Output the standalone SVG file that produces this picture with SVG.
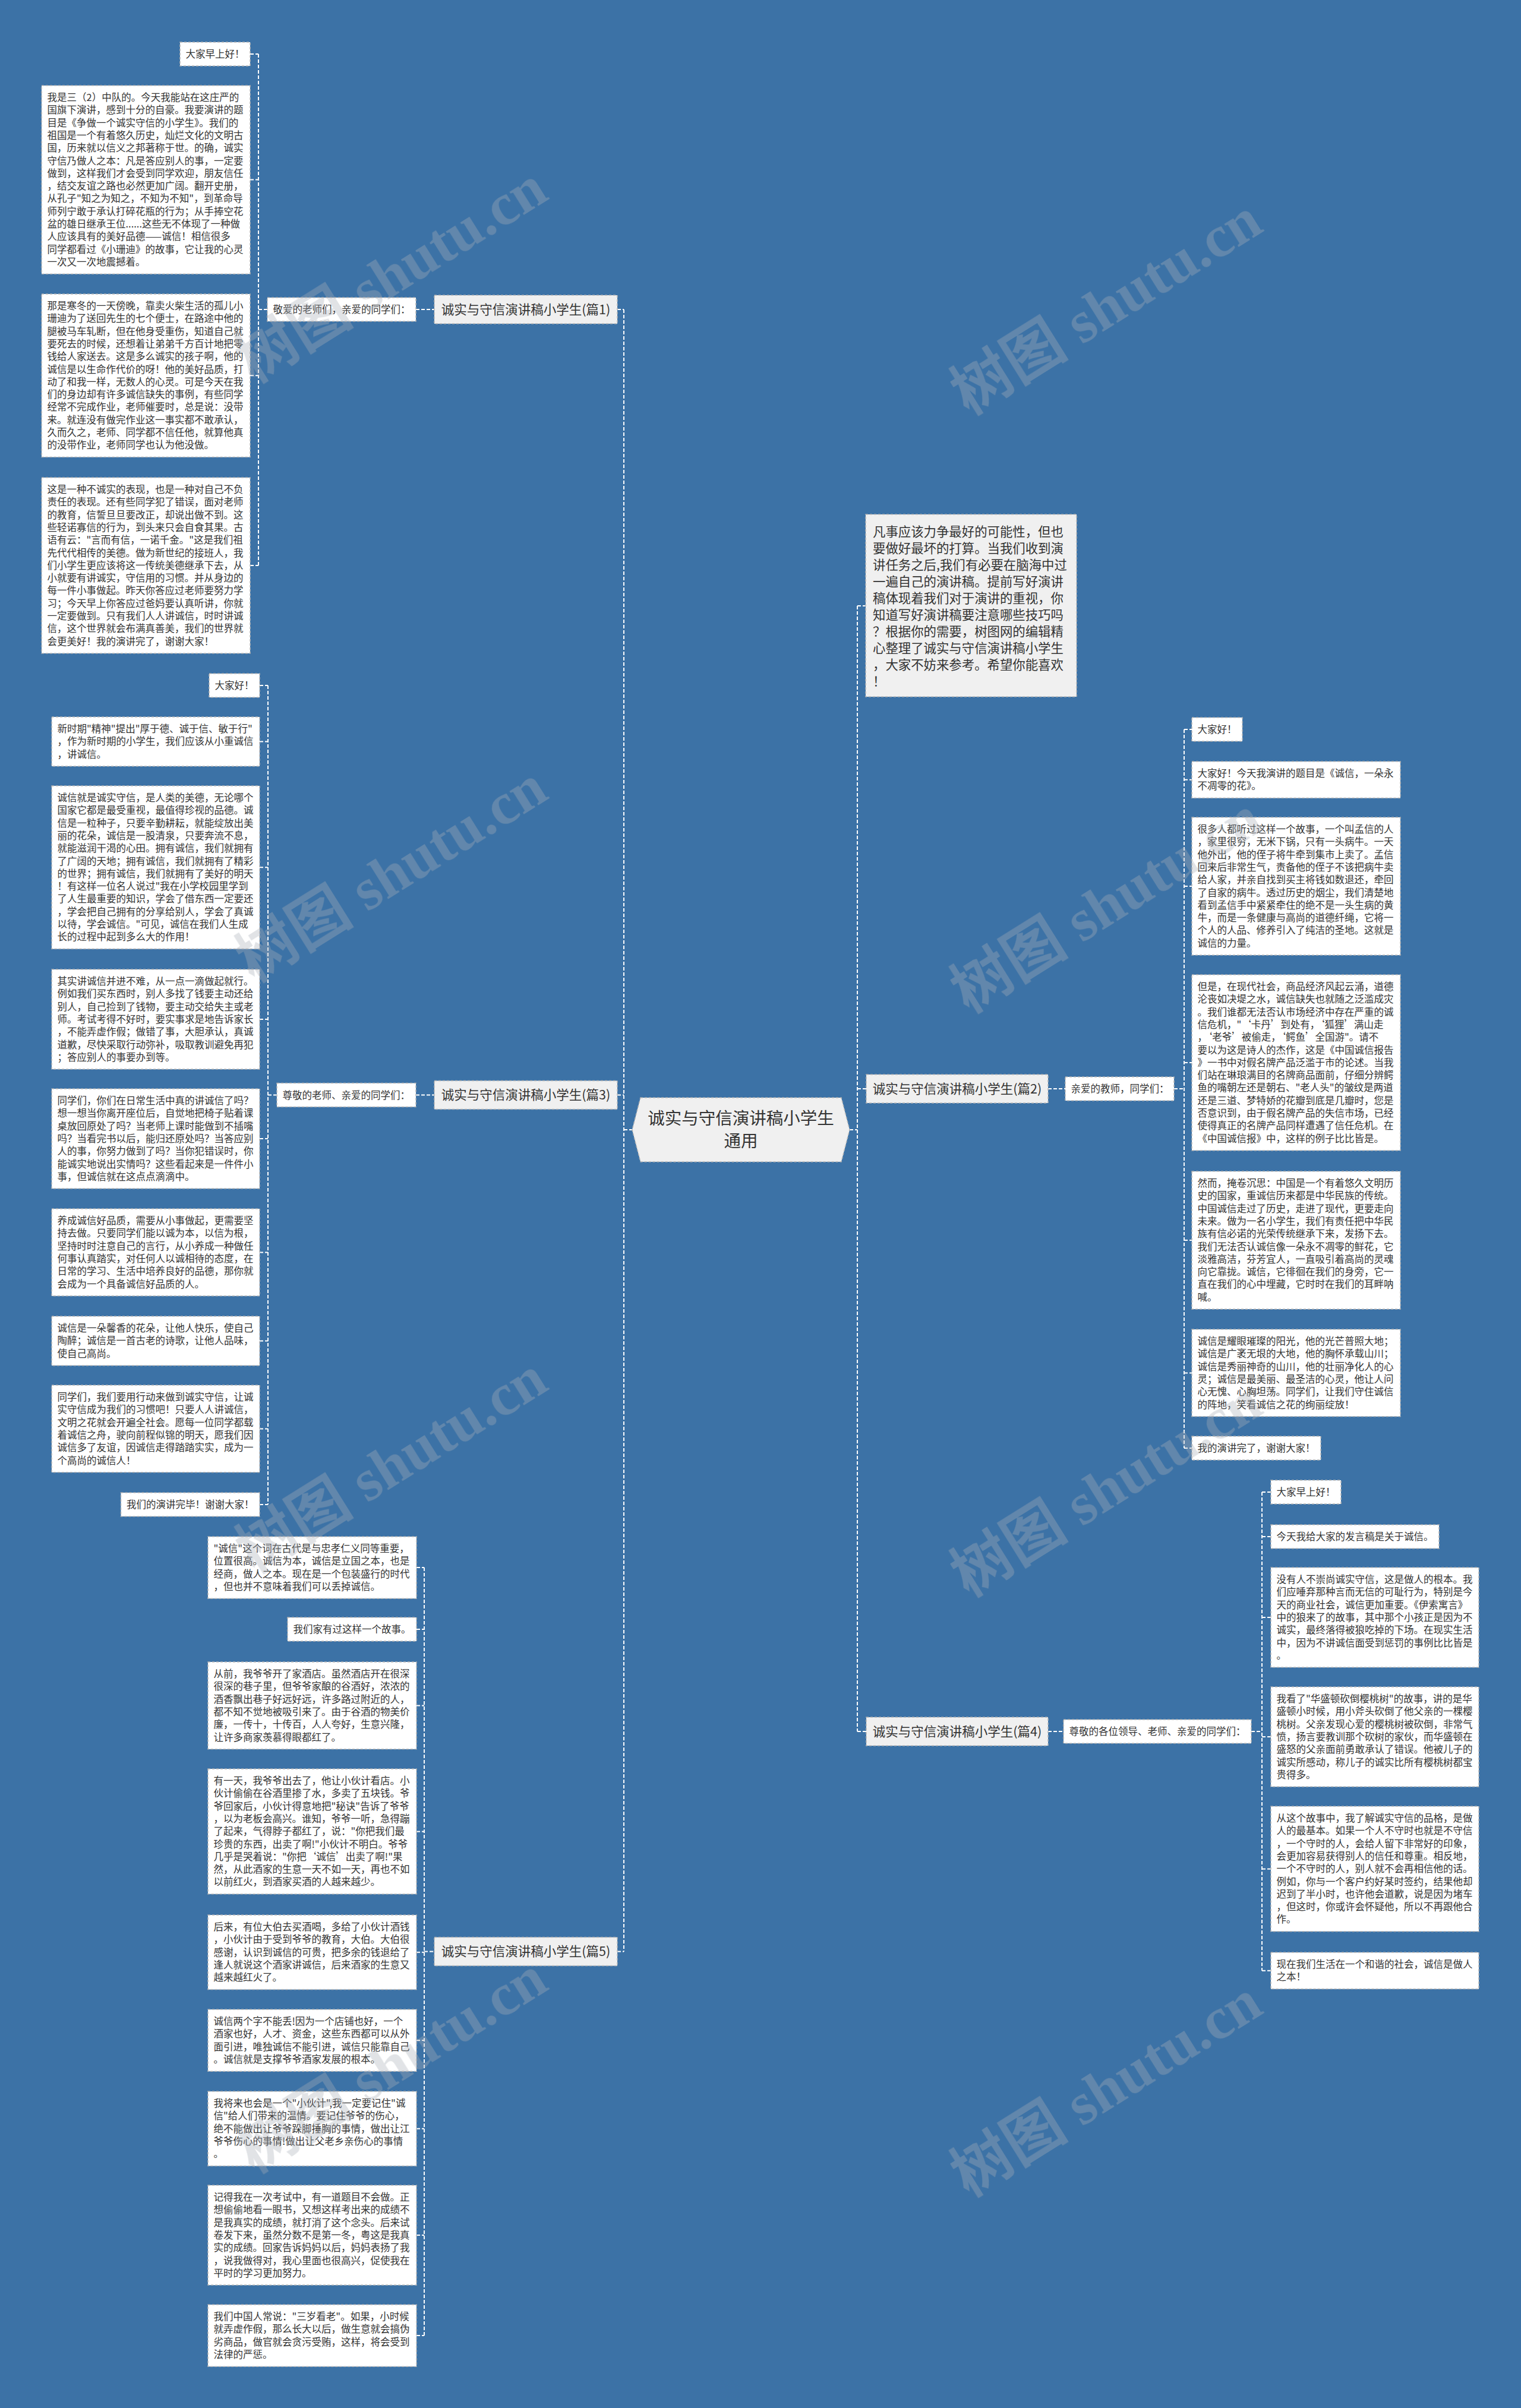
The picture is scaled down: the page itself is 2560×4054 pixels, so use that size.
<svg xmlns="http://www.w3.org/2000/svg" width="2560" height="4054" viewBox="0 0 2560 4054">
<style>
.t{font-family:"Noto Sans CJK SC","Noto Sans",sans-serif;font-size:16.5px;fill:#333}
.bt{font-family:"Noto Sans CJK SC","Noto Sans",sans-serif;font-size:21.5px;fill:#333}
.it{font-family:"Noto Sans CJK SC","Noto Sans",sans-serif;font-size:21.4px;fill:#333}
.ct{font-family:"Noto Sans CJK SC","Noto Sans",sans-serif;font-size:28.5px;fill:#333}
.lf{fill:#fff;stroke:#b4b4b4;stroke-width:1.5;stroke-dasharray:4 3}
.br{fill:#f0f0f0;stroke:#b4b4b4;stroke-width:1.5;stroke-dasharray:4 3}
.cn{fill:none;stroke:#fff;stroke-width:2;stroke-dasharray:6 3}
.wm{font-family:"Liberation Serif","Noto Sans CJK SC",serif;font-size:100px;font-weight:bold;fill:#aab0b8;opacity:0.35}
</style>
<rect width="2560" height="4054" fill="#3c72a6"/>

<g id="connectors" class="cn">
<!-- section 1 -->
<path d="M435 91V952M421 91H435M421 302.6H435M421 632.3H435M421 952H435M435 521H450M700 521H731M1039 521H1050"/>
<!-- section 3 -->
<path d="M451 1154V2533M437 1154H451M437 1248.5H451M437 1460.3H451M437 1716H451M437 1917H451M437 2108.4H451M437 2257.5H451M437 2405.4H451M437 2533H451M451 1843.5H466M700 1843.5H731M1039 1843.5H1050"/>
<!-- section 5 -->
<path d="M714 2639V3932M701 2639H714M701 2743H714M701 2871.4H714M701 3083.4H714M701 3286.8H714M701 3435.1H714M701 3583.8H714M701 3763H714M701 3932.1H714M714 3285.5H731M1039 3285.5H1050"/>
<!-- left main -->
<path d="M1050 521V3285.5M1050 1902H1064"/>
<!-- right main -->
<path d="M1443 1020V2915M1430 1902H1443M1443 1020H1457M1443 1833H1458M1443 2915H1458"/>
<!-- section 2 -->
<path d="M1764 1833H1793M1976 1833H1993M1993 1228V2438M1993 1228H2006M1993 1312.8H2006M1993 1492H2006M1993 1789H2006M1993 2088H2006M1993 2311.4H2006M1993 2438H2006"/>
<!-- section 4 -->
<path d="M1764 2915H1790M2106 2915H2124M2124 2512V3317.8M2124 2512H2139M2124 2587H2139M2124 2723H2139M2124 2924H2139M2124 3146.4H2139M2124 3317.8H2139"/>
</g>

<g id="center">
<polygon points="1078,1848 1416,1848 1430,1902 1416,1956 1078,1956 1064,1902" fill="#f0f0f0" stroke="#b4b4b4" stroke-width="1.5" stroke-dasharray="4 3"/>
<text class="ct" text-anchor="middle"><tspan x="1247" y="1893">诚实与守信演讲稿小学生</tspan><tspan x="1247" y="1931">通用</tspan></text>
</g>

<g id="intro" transform="translate(1457,866)"><rect class="br" width="355" height="307"/>
<text class="it" y="36.7"><tspan x="12">凡事应该力争最好的可能性，但也</tspan><tspan x="12" dy="28">要做好最坏的打算。当我们收到演</tspan><tspan x="12" dy="28">讲任务之后,我们有必要在脑海中过</tspan><tspan x="12" dy="28">一遍自己的演讲稿。提前写好演讲</tspan><tspan x="12" dy="28">稿体现着我们对于演讲的重视，你</tspan><tspan x="12" dy="28">知道写好演讲稿要注意哪些技巧吗</tspan><tspan x="12" dy="28">？根据你的需要，树图网的编辑精</tspan><tspan x="12" dy="28">心整理了诚实与守信演讲稿小学生</tspan><tspan x="12" dy="28">，大家不妨来参考。希望你能喜欢</tspan><tspan x="12" dy="28">！</tspan></text></g>

<!-- ===== Section 1 ===== -->
<g id="b1" transform="translate(731,497)"><rect class="br" width="308" height="48"/><text class="bt" x="154" y="31.7" text-anchor="middle">诚实与守信演讲稿小学生(篇1)</text></g>
<g id="l1" transform="translate(450,501)"><rect class="lf" width="250" height="40"/><text class="t" x="9.5" y="26">敬爱的老师们，亲爱的同学们：</text></g>
<g id="s1a" transform="translate(303,71)"><rect class="lf" width="118" height="40"/><text class="t" x="9.5" y="26">大家早上好！</text></g>
<g id="s1b" transform="translate(70,144)"><rect class="lf" width="351" height="317.2"/>
<text class="t" y="26"><tspan x="9.5">我是三（2）中队的。今天我能站在这庄严的</tspan><tspan x="9.5" dy="21.3">国旗下演讲，感到十分的自豪。我要演讲的题</tspan><tspan x="9.5" dy="21.3">目是《争做一个诚实守信的小学生》。我们的</tspan><tspan x="9.5" dy="21.3">祖国是一个有着悠久历史，灿烂文化的文明古</tspan><tspan x="9.5" dy="21.3">国，历来就以信义之邦著称于世。的确，诚实</tspan><tspan x="9.5" dy="21.3">守信乃做人之本：凡是答应别人的事，一定要</tspan><tspan x="9.5" dy="21.3">做到，这样我们才会受到同学欢迎，朋友信任</tspan><tspan x="9.5" dy="21.3">，结交友谊之路也必然更加广阔。翻开史册，</tspan><tspan x="9.5" dy="21.3">从孔子"知之为知之，不知为不知"，到革命导</tspan><tspan x="9.5" dy="21.3">师列宁敢于承认打碎花瓶的行为；从手捧空花</tspan><tspan x="9.5" dy="21.3">盆的雄日继承王位......这些无不体现了一种做</tspan><tspan x="9.5" dy="21.3">人应该具有的美好品德——诚信！相信很多</tspan><tspan x="9.5" dy="21.3">同学都看过《小珊迪》的故事，它让我的心灵</tspan><tspan x="9.5" dy="21.3">一次又一次地震撼着。</tspan></text></g>
<g id="s1c" transform="translate(70,495)"><rect class="lf" width="351" height="274.6"/>
<text class="t" y="26"><tspan x="9.5">那是寒冬的一天傍晚，靠卖火柴生活的孤儿小</tspan><tspan x="9.5" dy="21.3">珊迪为了送回先生的七个便士，在路途中他的</tspan><tspan x="9.5" dy="21.3">腿被马车轧断，但在他身受重伤，知道自己就</tspan><tspan x="9.5" dy="21.3">要死去的时候，还想着让弟弟千方百计地把零</tspan><tspan x="9.5" dy="21.3">钱给人家送去。这是多么诚实的孩子啊，他的</tspan><tspan x="9.5" dy="21.3">诚信是以生命作代价的呀！他的美好品质，打</tspan><tspan x="9.5" dy="21.3">动了和我一样，无数人的心灵。可是今天在我</tspan><tspan x="9.5" dy="21.3">们的身边却有许多诚信缺失的事例，有些同学</tspan><tspan x="9.5" dy="21.3">经常不完成作业，老师催要时，总是说：没带</tspan><tspan x="9.5" dy="21.3">来。就连没有做完作业这一事实都不敢承认，</tspan><tspan x="9.5" dy="21.3">久而久之，老师、同学都不信任他，就算他真</tspan><tspan x="9.5" dy="21.3">的没带作业，老师同学也认为他没做。</tspan></text></g>
<g id="s1d" transform="translate(70,804)"><rect class="lf" width="351" height="295.9"/>
<text class="t" y="26"><tspan x="9.5">这是一种不诚实的表现，也是一种对自己不负</tspan><tspan x="9.5" dy="21.3">责任的表现。还有些同学犯了错误，面对老师</tspan><tspan x="9.5" dy="21.3">的教育，信誓旦旦要改正，却说出做不到。这</tspan><tspan x="9.5" dy="21.3">些轻诺寡信的行为，到头来只会自食其果。古</tspan><tspan x="9.5" dy="21.3">语有云："言而有信，一诺千金。"这是我们祖</tspan><tspan x="9.5" dy="21.3">先代代相传的美德。做为新世纪的接班人，我</tspan><tspan x="9.5" dy="21.3">们小学生更应该将这一传统美德继承下去，从</tspan><tspan x="9.5" dy="21.3">小就要有讲诚实，守信用的习惯。并从身边的</tspan><tspan x="9.5" dy="21.3">每一件小事做起。昨天你答应过老师要努力学</tspan><tspan x="9.5" dy="21.3">习；今天早上你答应过爸妈要认真听讲，你就</tspan><tspan x="9.5" dy="21.3">一定要做到。只有我们人人讲诚信，时时讲诚</tspan><tspan x="9.5" dy="21.3">信，这个世界就会布满真善美，我们的世界就</tspan><tspan x="9.5" dy="21.3">会更美好！我的演讲完了，谢谢大家！</tspan></text></g>

<!-- ===== Section 3 ===== -->
<g id="b3" transform="translate(731,1819.5)"><rect class="br" width="308" height="48"/><text class="bt" x="154" y="31.7" text-anchor="middle">诚实与守信演讲稿小学生(篇3)</text></g>
<g id="l3" transform="translate(466,1823.5)"><rect class="lf" width="234" height="40"/><text class="t" x="9.5" y="26">尊敬的老师、亲爱的同学们：</text></g>
<g id="s3a" transform="translate(352,1134)"><rect class="lf" width="85" height="40"/><text class="t" x="9.5" y="26">大家好！</text></g>
<g id="s3b" transform="translate(87,1207)"><rect class="lf" width="350" height="82.9"/>
<text class="t" y="26"><tspan x="9.5">新时期"精神"提出"厚于德、诚于信、敏于行"</tspan><tspan x="9.5" dy="21.3">，作为新时期的小学生，我们应该从小重诚信</tspan><tspan x="9.5" dy="21.3">，讲诚信。</tspan></text></g>
<g id="s3c" transform="translate(87,1323)"><rect class="lf" width="350" height="274.6"/>
<text class="t" y="26"><tspan x="9.5">诚信就是诚实守信，是人类的美德，无论哪个</tspan><tspan x="9.5" dy="21.3">国家它都是最受重视，最值得珍视的品德。诚</tspan><tspan x="9.5" dy="21.3">信是一粒种子，只要辛勤耕耘，就能绽放出美</tspan><tspan x="9.5" dy="21.3">丽的花朵，诚信是一股清泉，只要奔流不息，</tspan><tspan x="9.5" dy="21.3">就能滋润干渴的心田。拥有诚信，我们就拥有</tspan><tspan x="9.5" dy="21.3">了广阔的天地；拥有诚信，我们就拥有了精彩</tspan><tspan x="9.5" dy="21.3">的世界；拥有诚信，我们就拥有了美好的明天</tspan><tspan x="9.5" dy="21.3">！有这样一位名人说过"我在小学校园里学到</tspan><tspan x="9.5" dy="21.3">了人生最重要的知识，学会了借东西一定要还</tspan><tspan x="9.5" dy="21.3">，学会把自己拥有的分享给别人，学会了真诚</tspan><tspan x="9.5" dy="21.3">以待，学会诚信。"可见，诚信在我们人生成</tspan><tspan x="9.5" dy="21.3">长的过程中起到多么大的作用！</tspan></text></g>
<g id="s3d" transform="translate(87,1632)"><rect class="lf" width="350" height="168.1"/>
<text class="t" y="26"><tspan x="9.5">其实讲诚信并进不难，从一点一滴做起就行。</tspan><tspan x="9.5" dy="21.3">例如我们买东西时，别人多找了钱要主动还给</tspan><tspan x="9.5" dy="21.3">别人，自己捡到了钱物，要主动交给失主或老</tspan><tspan x="9.5" dy="21.3">师。考试考得不好时，要实事求是地告诉家长</tspan><tspan x="9.5" dy="21.3">，不能弄虚作假；做错了事，大胆承认，真诚</tspan><tspan x="9.5" dy="21.3">道歉，尽快采取行动弥补，吸取教训避免再犯</tspan><tspan x="9.5" dy="21.3">；答应别人的事要办到等。</tspan></text></g>
<g id="s3e" transform="translate(87,1833)"><rect class="lf" width="350" height="168.1"/>
<text class="t" y="26"><tspan x="9.5">同学们，你们在日常生活中真的讲诚信了吗？</tspan><tspan x="9.5" dy="21.3">想一想当你离开座位后，自觉地把椅子贴着课</tspan><tspan x="9.5" dy="21.3">桌放回原处了吗？当老师上课时能做到不插嘴</tspan><tspan x="9.5" dy="21.3">吗？当看完书以后，能归还原处吗？当答应别</tspan><tspan x="9.5" dy="21.3">人的事，你努力做到了吗？当你犯错误时，你</tspan><tspan x="9.5" dy="21.3">能诚实地说出实情吗？这些看起来是一件件小</tspan><tspan x="9.5" dy="21.3">事，但诚信就在这点点滴滴中。</tspan></text></g>
<g id="s3f" transform="translate(87,2035)"><rect class="lf" width="350" height="146.8"/>
<text class="t" y="26"><tspan x="9.5">养成诚信好品质，需要从小事做起，更需要坚</tspan><tspan x="9.5" dy="21.3">持去做。只要同学们能以诚为本，以信为根，</tspan><tspan x="9.5" dy="21.3">坚持时时注意自己的言行，从小养成一种做任</tspan><tspan x="9.5" dy="21.3">何事认真踏实，对任何人以诚相待的态度，在</tspan><tspan x="9.5" dy="21.3">日常的学习、生活中培养良好的品德，那你就</tspan><tspan x="9.5" dy="21.3">会成为一个具备诚信好品质的人。</tspan></text></g>
<g id="s3g" transform="translate(87,2216)"><rect class="lf" width="350" height="82.9"/>
<text class="t" y="26"><tspan x="9.5">诚信是一朵馨香的花朵，让他人快乐，使自己</tspan><tspan x="9.5" dy="21.3">陶醉；诚信是一首古老的诗歌，让他人品味，</tspan><tspan x="9.5" dy="21.3">使自己高尚。</tspan></text></g>
<g id="s3h" transform="translate(87,2332)"><rect class="lf" width="350" height="146.8"/>
<text class="t" y="26"><tspan x="9.5">同学们，我们要用行动来做到诚实守信，让诚</tspan><tspan x="9.5" dy="21.3">实守信成为我们的习惯吧！只要人人讲诚信，</tspan><tspan x="9.5" dy="21.3">文明之花就会开遍全社会。愿每一位同学都载</tspan><tspan x="9.5" dy="21.3">着诚信之舟，驶向前程似锦的明天，愿我们因</tspan><tspan x="9.5" dy="21.3">诚信多了友谊，因诚信走得踏踏实实，成为一</tspan><tspan x="9.5" dy="21.3">个高尚的诚信人！</tspan></text></g>
<g id="s3i" transform="translate(203.5,2513)"><rect class="lf" width="233.5" height="40"/><text class="t" x="9.5" y="26">我们的演讲完毕！谢谢大家！</text></g>

<!-- ===== Section 5 ===== -->
<g id="b5" transform="translate(731,3261.5)"><rect class="br" width="308" height="48"/><text class="bt" x="154" y="31.7" text-anchor="middle">诚实与守信演讲稿小学生(篇5)</text></g>
<g id="s5a" transform="translate(350,2587)"><rect class="lf" width="351" height="104.2"/>
<text class="t" y="26"><tspan x="9.5">"诚信"这个词在古代是与忠孝仁义同等重要，</tspan><tspan x="9.5" dy="21.3">位置很高。诚信为本，诚信是立国之本，也是</tspan><tspan x="9.5" dy="21.3">经商，做人之本。现在是一个包装盛行的时代</tspan><tspan x="9.5" dy="21.3">，但也并不意味着我们可以丢掉诚信。</tspan></text></g>
<g id="s5b" transform="translate(484,2723)"><rect class="lf" width="217" height="40"/><text class="t" x="9.5" y="26">我们家有过这样一个故事。</text></g>
<g id="s5c" transform="translate(350,2798)"><rect class="lf" width="351" height="146.8"/>
<text class="t" y="26"><tspan x="9.5">从前，我爷爷开了家酒店。虽然酒店开在很深</tspan><tspan x="9.5" dy="21.3">很深的巷子里，但爷爷家酿的谷酒好，浓浓的</tspan><tspan x="9.5" dy="21.3">酒香飘出巷子好远好远，许多路过附近的人，</tspan><tspan x="9.5" dy="21.3">都不知不觉地被吸引来了。由于谷酒的物美价</tspan><tspan x="9.5" dy="21.3">廉，一传十，十传百，人人夸好，生意兴隆，</tspan><tspan x="9.5" dy="21.3">让许多商家羡慕得眼都红了。</tspan></text></g>
<g id="s5d" transform="translate(350,2978)"><rect class="lf" width="351" height="210.7"/>
<text class="t" y="26"><tspan x="9.5">有一天，我爷爷出去了，他让小伙计看店。小</tspan><tspan x="9.5" dy="21.3">伙计偷偷在谷酒里掺了水，多卖了五块钱。爷</tspan><tspan x="9.5" dy="21.3">爷回家后，小伙计得意地把"秘诀"告诉了爷爷</tspan><tspan x="9.5" dy="21.3">，以为老板会高兴。谁知，爷爷一听，急得蹦</tspan><tspan x="9.5" dy="21.3">了起来，气得脖子都红了，说："你把我们最</tspan><tspan x="9.5" dy="21.3">珍贵的东西，出卖了啊!"小伙计不明白。爷爷</tspan><tspan x="9.5" dy="21.3">几乎是哭着说："你把‘诚信’出卖了啊!"果</tspan><tspan x="9.5" dy="21.3">然，从此酒家的生意一天不如一天，再也不如</tspan><tspan x="9.5" dy="21.3">以前红火，到酒家买酒的人越来越少。</tspan></text></g>
<g id="s5e" transform="translate(350,3224)"><rect class="lf" width="351" height="125.5"/>
<text class="t" y="26"><tspan x="9.5">后来，有位大伯去买酒喝，多给了小伙计酒钱</tspan><tspan x="9.5" dy="21.3">，小伙计由于受到爷爷的教育，大伯。大伯很</tspan><tspan x="9.5" dy="21.3">感谢，认识到诚信的可贵，把多余的钱退给了</tspan><tspan x="9.5" dy="21.3">逢人就说这个酒家讲诚信，后来酒家的生意又</tspan><tspan x="9.5" dy="21.3">越来越红火了。</tspan></text></g>
<g id="s5f" transform="translate(350,3383)"><rect class="lf" width="351" height="104.2"/>
<text class="t" y="26"><tspan x="9.5">诚信两个字不能丢!因为一个店铺也好，一个</tspan><tspan x="9.5" dy="21.3">酒家也好，人才、资金，这些东西都可以从外</tspan><tspan x="9.5" dy="21.3">面引进，唯独诚信不能引进，诚信只能靠自己</tspan><tspan x="9.5" dy="21.3">。诚信就是支撑爷爷酒家发展的根本。</tspan></text></g>
<g id="s5g" transform="translate(350,3521)"><rect class="lf" width="351" height="125.5"/>
<text class="t" y="26"><tspan x="9.5">我将来也会是一个"小伙计",我一定要记住"诚</tspan><tspan x="9.5" dy="21.3">信"给人们带来的温情。要记住爷爷的伤心，</tspan><tspan x="9.5" dy="21.3">绝不能做出让爷爷跺脚捶胸的事情，做出让江</tspan><tspan x="9.5" dy="21.3">爷爷伤心的事情!做出让父老乡亲伤心的事情</tspan><tspan x="9.5" dy="21.3">。</tspan></text></g>
<g id="s5h" transform="translate(350,3679)"><rect class="lf" width="351" height="168.1"/>
<text class="t" y="26"><tspan x="9.5">记得我在一次考试中，有一道题目不会做。正</tspan><tspan x="9.5" dy="21.3">想偷偷地看一眼书，又想这样考出来的成绩不</tspan><tspan x="9.5" dy="21.3">是我真实的成绩，就打消了这个念头。后来试</tspan><tspan x="9.5" dy="21.3">卷发下来，虽然分数不是第一冬，粤这是我真</tspan><tspan x="9.5" dy="21.3">实的成绩。回家告诉妈妈以后，妈妈表扬了我</tspan><tspan x="9.5" dy="21.3">，说我做得对，我心里面也很高兴，促使我在</tspan><tspan x="9.5" dy="21.3">平时的学习更加努力。</tspan></text></g>
<g id="s5i" transform="translate(350,3880)"><rect class="lf" width="351" height="104.2"/>
<text class="t" y="26"><tspan x="9.5">我们中国人常说："三岁看老"。如果，小时候</tspan><tspan x="9.5" dy="21.3">就弄虚作假，那么长大以后，做生意就会搞伪</tspan><tspan x="9.5" dy="21.3">劣商品，做官就会贪污受贿，这样，将会受到</tspan><tspan x="9.5" dy="21.3">法律的严惩。</tspan></text></g>

<!-- ===== Section 2 ===== -->
<g id="b2" transform="translate(1458,1809)"><rect class="br" width="306" height="48"/><text class="bt" x="153" y="31.7" text-anchor="middle">诚实与守信演讲稿小学生(篇2)</text></g>
<g id="l2" transform="translate(1793,1813)"><rect class="lf" width="183" height="40"/><text class="t" x="9.5" y="26">亲爱的教师，同学们：</text></g>
<g id="s2a" transform="translate(2006,1208)"><rect class="lf" width="85" height="40"/><text class="t" x="9.5" y="26">大家好！</text></g>
<g id="s2b" transform="translate(2006,1282)"><rect class="lf" width="351" height="61.6"/>
<text class="t" y="26"><tspan x="9.5">大家好！今天我演讲的题目是《诚信，一朵永</tspan><tspan x="9.5" dy="21.3">不凋零的花》。</tspan></text></g>
<g id="s2c" transform="translate(2006,1376)"><rect class="lf" width="351" height="232"/>
<text class="t" y="26"><tspan x="9.5">很多人都听过这样一个故事，一个叫孟信的人</tspan><tspan x="9.5" dy="21.3">，家里很穷，无米下锅，只有一头病牛。一天</tspan><tspan x="9.5" dy="21.3">他外出，他的侄子将牛牵到集市上卖了。孟信</tspan><tspan x="9.5" dy="21.3">回来后非常生气，责备他的侄子不该把病牛卖</tspan><tspan x="9.5" dy="21.3">给人家，并亲自找到买主将钱如数退还，牵回</tspan><tspan x="9.5" dy="21.3">了自家的病牛。透过历史的烟尘，我们清楚地</tspan><tspan x="9.5" dy="21.3">看到孟信手中紧紧牵住的绝不是一头生病的黄</tspan><tspan x="9.5" dy="21.3">牛，而是一条健康与高尚的道德纤绳，它将一</tspan><tspan x="9.5" dy="21.3">个人的人品、修养引入了纯洁的圣地。这就是</tspan><tspan x="9.5" dy="21.3">诚信的力量。</tspan></text></g>
<g id="s2d" transform="translate(2006,1641)"><rect class="lf" width="351" height="295.9"/>
<text class="t" y="26"><tspan x="9.5">但是，在现代社会，商品经济风起云涌，道德</tspan><tspan x="9.5" dy="21.3">沦丧如决堤之水，诚信缺失也就随之泛滥成灾</tspan><tspan x="9.5" dy="21.3">。我们谁都无法否认市场经济中存在严重的诚</tspan><tspan x="9.5" dy="21.3">信危机，"‘卡丹’到处有，‘狐狸’满山走</tspan><tspan x="9.5" dy="21.3">，‘老爷’被偷走，‘鳄鱼’全国游"。请不</tspan><tspan x="9.5" dy="21.3">要以为这是诗人的杰作，这是《中国诚信报告</tspan><tspan x="9.5" dy="21.3">》一书中对假名牌产品泛滥于市的论述。当我</tspan><tspan x="9.5" dy="21.3">们站在琳琅满目的名牌商品面前，仔细分辨鳄</tspan><tspan x="9.5" dy="21.3">鱼的嘴朝左还是朝右、"老人头"的皱纹是两道</tspan><tspan x="9.5" dy="21.3">还是三道、梦特娇的花瓣到底是几瓣时，您是</tspan><tspan x="9.5" dy="21.3">否意识到，由于假名牌产品的失信市场，已经</tspan><tspan x="9.5" dy="21.3">使得真正的名牌产品同样遭遇了信任危机。在</tspan><tspan x="9.5" dy="21.3">《中国诚信报》中，这样的例子比比皆是。</tspan></text></g>
<g id="s2e" transform="translate(2006,1972)"><rect class="lf" width="351" height="232"/>
<text class="t" y="26"><tspan x="9.5">然而，掩卷沉思：中国是一个有着悠久文明历</tspan><tspan x="9.5" dy="21.3">史的国家，重诚信历来都是中华民族的传统。</tspan><tspan x="9.5" dy="21.3">中国诚信走过了历史，走进了现代，更要走向</tspan><tspan x="9.5" dy="21.3">未来。做为一名小学生，我们有责任把中华民</tspan><tspan x="9.5" dy="21.3">族有信必诺的光荣传统继承下来，发扬下去。</tspan><tspan x="9.5" dy="21.3">我们无法否认诚信像一朵永不凋零的鲜花，它</tspan><tspan x="9.5" dy="21.3">淡雅高洁，芬芳宜人，一直吸引着高尚的灵魂</tspan><tspan x="9.5" dy="21.3">向它靠拢。诚信，它徘徊在我们的身旁，它一</tspan><tspan x="9.5" dy="21.3">直在我们的心中埋藏，它时时在我们的耳畔呐</tspan><tspan x="9.5" dy="21.3">喊。</tspan></text></g>
<g id="s2f" transform="translate(2006,2238)"><rect class="lf" width="351" height="146.8"/>
<text class="t" y="26"><tspan x="9.5">诚信是耀眼璀璨的阳光，他的光芒普照大地；</tspan><tspan x="9.5" dy="21.3">诚信是广袤无垠的大地，他的胸怀承载山川；</tspan><tspan x="9.5" dy="21.3">诚信是秀丽神奇的山川，他的壮丽净化人的心</tspan><tspan x="9.5" dy="21.3">灵；诚信是最美丽、最圣洁的心灵，他让人问</tspan><tspan x="9.5" dy="21.3">心无愧、心胸坦荡。同学们，让我们守住诚信</tspan><tspan x="9.5" dy="21.3">的阵地，笑看诚信之花的绚丽绽放！</tspan></text></g>
<g id="s2g" transform="translate(2006,2418)"><rect class="lf" width="217" height="40"/><text class="t" x="9.5" y="26">我的演讲完了，谢谢大家！</text></g>

<!-- ===== Section 4 ===== -->
<g id="b4" transform="translate(1458,2891)"><rect class="br" width="306" height="48"/><text class="bt" x="153" y="31.7" text-anchor="middle">诚实与守信演讲稿小学生(篇4)</text></g>
<g id="l4" transform="translate(1790,2895)"><rect class="lf" width="316" height="40"/><text class="t" x="9.5" y="26">尊敬的各位领导、老师、亲爱的同学们：</text></g>
<g id="s4a" transform="translate(2139,2492)"><rect class="lf" width="118" height="40"/><text class="t" x="9.5" y="26">大家早上好！</text></g>
<g id="s4b" transform="translate(2139,2567)"><rect class="lf" width="283" height="40"/><text class="t" x="9.5" y="26">今天我给大家的发言稿是关于诚信。</text></g>
<g id="s4c" transform="translate(2139,2639)"><rect class="lf" width="350" height="168.1"/>
<text class="t" y="26"><tspan x="9.5">没有人不崇尚诚实守信，这是做人的根本。我</tspan><tspan x="9.5" dy="21.3">们应唾弃那种言而无信的可耻行为，特别是今</tspan><tspan x="9.5" dy="21.3">天的商业社会，诚信更加重要。《伊索寓言》</tspan><tspan x="9.5" dy="21.3">中的狼来了的故事，其中那个小孩正是因为不</tspan><tspan x="9.5" dy="21.3">诚实，最终落得被狼吃掉的下场。在现实生活</tspan><tspan x="9.5" dy="21.3">中，因为不讲诚信面受到惩罚的事例比比皆是</tspan><tspan x="9.5" dy="21.3">。</tspan></text></g>
<g id="s4d" transform="translate(2139,2840)"><rect class="lf" width="350" height="168.1"/>
<text class="t" y="26"><tspan x="9.5">我看了"华盛顿砍倒樱桃树"的故事，讲的是华</tspan><tspan x="9.5" dy="21.3">盛顿小时候，用小斧头砍倒了他父亲的一棵樱</tspan><tspan x="9.5" dy="21.3">桃树。父亲发现心爱的樱桃树被砍倒，非常气</tspan><tspan x="9.5" dy="21.3">愤，扬言要教训那个砍树的家伙，而华盛顿在</tspan><tspan x="9.5" dy="21.3">盛怒的父亲面前勇敢承认了错误。他被儿子的</tspan><tspan x="9.5" dy="21.3">诚实所感动，称儿子的诚实比所有樱桃树都宝</tspan><tspan x="9.5" dy="21.3">贵得多。</tspan></text></g>
<g id="s4e" transform="translate(2139,3041)"><rect class="lf" width="350" height="210.7"/>
<text class="t" y="26"><tspan x="9.5">从这个故事中，我了解诚实守信的品格，是做</tspan><tspan x="9.5" dy="21.3">人的最基本。如果一个人不守时也就是不守信</tspan><tspan x="9.5" dy="21.3">，一个守时的人，会给人留下非常好的印象，</tspan><tspan x="9.5" dy="21.3">会更加容易获得别人的信任和尊重。相反地，</tspan><tspan x="9.5" dy="21.3">一个不守时的人，别人就不会再相信他的话。</tspan><tspan x="9.5" dy="21.3">例如，你与一个客户约好某时签约，结果他却</tspan><tspan x="9.5" dy="21.3">迟到了半小时，也许他会道歉，说是因为堵车</tspan><tspan x="9.5" dy="21.3">，但这时，你或许会怀疑他，所以不再跟他合</tspan><tspan x="9.5" dy="21.3">作。</tspan></text></g>
<g id="s4f" transform="translate(2139,3287)"><rect class="lf" width="350" height="61.6"/>
<text class="t" y="26"><tspan x="9.5">现在我们生活在一个和谐的社会，诚信是做人</tspan><tspan x="9.5" dy="21.3">之本！</tspan></text></g>

<g id="watermark" class="wm">
<text transform="translate(427,646) rotate(-32)">树图 shutu.cn</text>
<text transform="translate(1630,700) rotate(-32)">树图 shutu.cn</text>
<text transform="translate(427,1655) rotate(-32)">树图 shutu.cn</text>
<text transform="translate(1630,1707) rotate(-32)">树图 shutu.cn</text>
<text transform="translate(427,2650) rotate(-32)">树图 shutu.cn</text>
<text transform="translate(1630,2690) rotate(-32)">树图 shutu.cn</text>
<text transform="translate(427,3660) rotate(-32)">树图 shutu.cn</text>
<text transform="translate(1630,3700) rotate(-32)">树图 shutu.cn</text>
</g>
</svg>
